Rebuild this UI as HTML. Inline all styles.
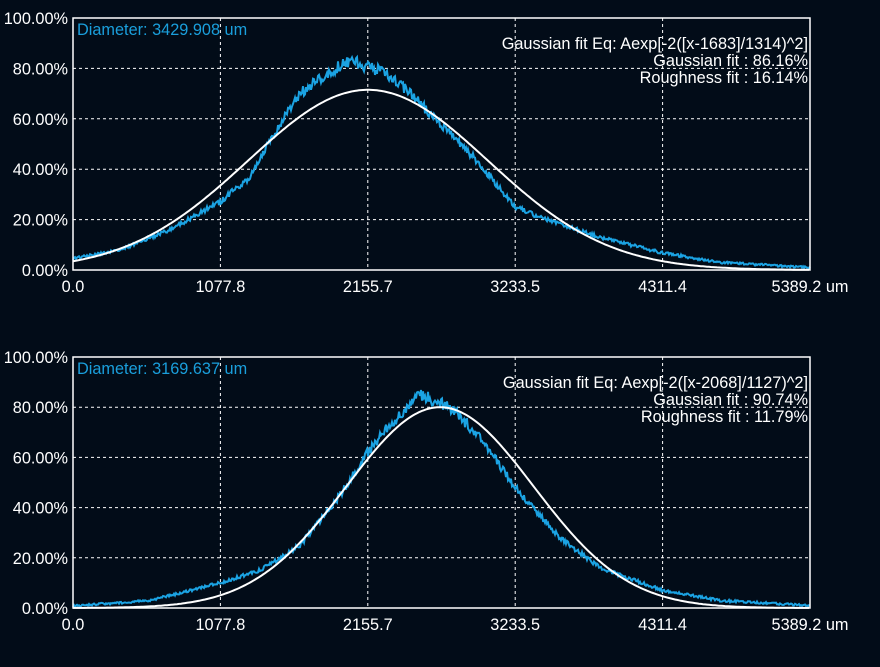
<!DOCTYPE html>
<html><head><meta charset="utf-8"><style>
body{margin:0;background:#020c18;width:880px;height:667px;overflow:hidden}
svg{display:block}
text{font-family:"Liberation Sans",sans-serif;font-size:16.3px;fill:#fff}
</style></head><body>
<svg id="s" width="880" height="667" xmlns="http://www.w3.org/2000/svg"></svg>
<script>
var s=document.getElementById('s'),h='';
var L=73,R=810;
function chart(top,bot,diam,eq,gf,rf,wc,ww,wp,bl){
  var H=bot-top;
  function Y(p){return bot-p/100*H;}
  for(var k=1;k<5;k++){var x=L+(R-L)*k/5;h+='<line x1="'+x+'" y1="'+top+'" x2="'+x+'" y2="'+bot+'" stroke="#fff" stroke-dasharray="3,3"/>';}
  for(var k=1;k<5;k++){var y=Y(k*20);h+='<line x1="'+L+'" y1="'+y+'" x2="'+R+'" y2="'+y+'" stroke="#fff" stroke-dasharray="3,3"/>';}
  for(var k=0;k<=5;k++){h+='<text x="68" y="'+(Y(k*20)+6)+'" text-anchor="end">'+(k*20).toFixed(2)+'%</text>';}
  var lab=['0.0','1077.8','2155.7','3233.5','4311.4','5389.2 um'];
  for(var k=0;k<6;k++){var x=L+(R-L)*k/5;h+='<text x="'+x+'" y="'+(bot+22)+'" text-anchor="middle">'+lab[k]+'</text>';}
  var seed=top*7+1;function rnd(){seed=(seed*16807)%2147483647;return seed/2147483647;}
  var d='';
  for(var x=L;x<=R;x+=1){
    var i=0;while(i<bl.length-2&&bl[i+1][0]<x)i++;
    var a=bl[i],b=bl[i+1],t=(x-a[0])/(b[0]-a[0]);t=Math.max(0,Math.min(1,t));
    var p=a[1]+(b[1]-a[1])*t;p+=(rnd()-0.5)*(0.8+p*0.05);
    d+=(x==L?'M':'L')+x+','+Y(p).toFixed(1);
  }
  var w='';
  for(var x=L;x<=R;x+=2){var p=wp*Math.exp(-2*Math.pow((x-wc)/ww,2));w+=(x==L?'M':'L')+x+','+Y(p).toFixed(1);}
  h+='<path d="'+d+'" fill="none" stroke="#1ba3e3" stroke-width="2"/>';
  h+='<path d="'+w+'" fill="none" stroke="#fff" stroke-width="2"/>';
  h+='<rect x="'+L+'" y="'+top+'" width="'+(R-L)+'" height="'+H+'" fill="none" stroke="#fff" stroke-width="1.5"/>';
  h+='<text x="77" y="'+(top+17)+'" style="fill:#1a9fdc">Diameter: '+diam+'</text>';
  h+='<text x="808" y="'+(top+31)+'" text-anchor="end">'+eq+'</text>';
  h+='<text x="808" y="'+(top+48)+'" text-anchor="end">Gaussian fit : '+gf+'</text>';
  h+='<text x="808" y="'+(top+65)+'" text-anchor="end">Roughness fit : '+rf+'</text>';
}
chart(18,270,'3429.908 um','Gaussian fit Eq: Aexp[-2([x-1683]/1314)^2]','86.16%','16.14%',368,240,71.5,
[[73,4.5],[120,8],[170,16],[220,27],[250,37],[280,58],[300,70],[330,79],[350,83],[380,79],[400,74],[420,66],[450,54],[480,42],[515,25],[540,21],[570,17],[600,13],[660,7],[720,3],[810,1]]);
chart(357,608,'3169.637 um','Gaussian fit Eq: Aexp[-2([x-2068]/1127)^2]','90.74%','11.79%',440,187,80,
[[73,0.8],[150,3],[220,10],[260,15],[300,25],[340,45],[368,62],[390,73],[420,85],[450,80],[480,68],[515,48],[560,28],[600,16],[663,7],[720,3],[810,1]]);
s.innerHTML=h;
</script>
</body></html>
